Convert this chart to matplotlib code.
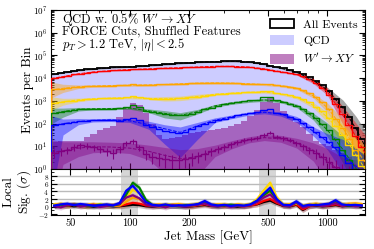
import numpy as np
import matplotlib
matplotlib.use('Agg')
import matplotlib.pyplot as plt
from matplotlib.patches import Patch
from matplotlib.ticker import LogLocator, NullFormatter, MultipleLocator

plt.rcParams['font.family'] = 'cmr10'
plt.rcParams['mathtext.fontset'] = 'cm'
plt.rcParams['axes.formatter.use_mathtext'] = True

# binning of the jet mass histograms (GeV)
edges = np.geomspace(40, 1550, 49)
centers = np.sqrt(edges[:-1] * edges[1:])

# events per bin, one list per cut level
all_events = [15100, 17000, 19100, 20900, 22400, 24000, 25700, 26900, 28200, 29500, 30200, 30900,
              32400, 33900, 35500, 37200, 38900, 40700, 42700, 44700, 45700, 47900, 50100, 51300,
              52500, 53700, 55000, 55000, 55000, 52500, 50100, 45700, 40700, 35500, 31600, 27500,
              22400, 18600, 14500, 10700, 7590, 4790, 2630, 1260, 525, 191, 63, 20]
qcd = [15000, 16900, 19000, 20800, 22300, 23900, 25600, 26800, 28100, 29400, 30000, 30500,
       31600, 33300, 35200, 37100, 38800, 40600, 42600, 44600, 45600, 47800, 50000, 51200,
       52400, 53600, 54900, 54900, 54900, 52400, 49800, 45300, 39800, 34100, 30800, 27100,
       22200, 18500, 14400, 10600, 7570, 4780, 2620, 1250, 520, 188, 61, 18]
red = [10000, 11500, 12900, 14500, 15800, 17400, 18600, 20000, 20900, 21900, 22900, 23400,
       24500, 25100, 25700, 26300, 26900, 27500, 28200, 28800, 29500, 30200, 30900, 31600,
       32400, 33100, 33100, 33100, 32400, 31600, 30200, 28200, 25700, 23400, 21400, 19500,
       17400, 14800, 12000, 8910, 6030, 3800, 1780, 708, 263, 89, 28, 8.9]
orange = [3160, 3470, 3720, 3980, 4170, 4370, 4470, 4570, 4680, 4680, 4790, 4900,
          5500, 5010, 5010, 5130, 5250, 5370, 5500, 5620, 5750, 5890, 6030, 6170,
          6170, 6170, 6170, 6030, 5890, 5750, 5500, 5370, 5750, 5750, 5010, 4680,
          4170, 3630, 3020, 2290, 1510, 891, 417, 166, 63, 22, 7.1, 2.5]
yellow = [794, 871, 955, 1020, 1100, 1170, 1230, 1290, 1320, 1350, 1380, 1450,
          1580, 1410, 1290, 1260, 1230, 1230, 1260, 1290, 1350, 1450, 1550, 1660,
          1820, 1950, 2090, 2190, 2290, 2340, 2400, 2450, 2630, 2750, 2190, 2000,
          1740, 1450, 1170, 871, 562, 355, 178, 79, 32, 11, 4.0, 1.4]
green = [282, 331, 372, 407, 427, 437, 447, 457, 457, 457, 479, 562,
         661, 525, 355, 316, 282, 251, 234, 229, 240, 275, 331, 417,
         501, 603, 708, 813, 891, 977, 1050, 1120, 1410, 1510, 1050, 912,
         759, 603, 437, 302, 178, 100, 52, 21, 7.1, 2.5, 1.0, 0.5]
blue = [83, 95, 107, 117, 126, 135, 141, 145, 145, 138, 132, 151,
        174, 141, 89, 71, 58, 48, 43, 40, 43, 56, 79, 100,
        117, 141, 166, 200, 229, 263, 288, 316, 398, 417, 302, 251,
        200, 151, 110, 71, 42, 25, 16, 8.9, 4.0, 1.8, 0.5, 0.3]
purple = [5.2, 6.0, 7.1, 9.3, 11.2, 10.5, 8.9, 7.6, 6.3, 5.0, 7.9, 14.1,
          16.6, 8.9, 4.5, 3.5, 3.2, 2.8, 2.5, 2.5, 2.8, 3.2, 3.8, 4.5,
          6.0, 7.6, 9.5, 12.0, 15.1, 18.2, 20.9, 24.0, 31.6, 39.8, 26.3, 22.4,
          19.1, 14.1, 10.0, 7.1, 5.0, 3.3, 2.0, 1.26, 0.8, 0.6, 0.4, 0.3]
signal = [15.8, 16.6, 16.6, 17.0, 17.8, 25.1, 35.5, 50.1, 63.1, 79.4, 200, 417,
          832, 631, 282, 100, 31.6, 20.0, 22.4, 26.3, 31.6, 38.0, 43.7, 49.0,
          53.7, 57.5, 63.1, 75.9, 93.3, 135, 224, 380, 871, 1450, 794, 355,
          191, 112, 69, 35.5, 17.8, 12.6, 10, 7.1, 5.0, 3.5, 2.5, 1.8]

# background fits and their uncertainty bands
m_fit = [40, 46, 55, 65, 80, 100, 125, 150, 180, 220, 270, 330, 400, 480, 580, 700, 850, 1000, 1200, 1400, 1550]
fit_all = [14500, 17400, 21900, 25100, 28800, 31600, 35500, 39800, 44700, 50100, 53700, 55000, 51300, 40700, 27500, 18200, 7940, 3020, 479, 56, 10]
fit_red = [9550, 11700, 15500, 18600, 21400, 24000, 25700, 27500, 28800, 30900, 33100, 33100, 30900, 25700, 19100, 14500, 6920, 2510, 224, 25, 5.0]
fit_orange = [3020, 3550, 4170, 4470, 4680, 4900, 5010, 5250, 5620, 6030, 6170, 6030, 5620, 5250, 4680, 3630, 1660, 501, 63, 7.1, 2.0]
fit_yellow = [759, 912, 1100, 1230, 1320, 1380, 1290, 1230, 1290, 1550, 1950, 2190, 2400, 2450, 2040, 1450, 631, 191, 32, 4.0, 1.0]
fit_green = [269, 339, 427, 447, 457, 479, 363, 282, 229, 331, 603, 813, 977, 1100, 955, 603, 200, 52, 7.1, 1.0, 0.3]
fit_blue = [79, 98, 123, 138, 145, 132, 89, 59, 41, 79, 141, 200, 275, 316, 263, 151, 45, 16, 4.0, 1.26, 0.5]
fit_purple = [5.2, 6.3, 8.3, 9.5, 9.3, 8.3, 6.0, 4.0, 2.8, 3.5, 6.6, 12.0, 19.1, 24.0, 21.4, 14.1, 6.6, 2.2, 0.63, 0.2, 0.1]

lo_all = [13500, 16200, 20400, 23400, 26900, 29500, 33100, 37200, 41700, 46800, 50100, 51300, 47900, 38000, 25700, 16600, 6920, 2290, 240, 17.8, 2.0]
hi_all = [15500, 18600, 23400, 26900, 30900, 33900, 38000, 42700, 47900, 53700, 57500, 58900, 55000, 43700, 29500, 20000, 9120, 3980, 1070, 200, 50]
lo_red = [8910, 11000, 14500, 17400, 20000, 22400, 24000, 25700, 26900, 28800, 30900, 30900, 28800, 24000, 17800, 13500, 5750, 1780, 89, 6.3, 0.8]
hi_red = [10200, 12600, 16600, 20000, 22900, 25700, 27500, 29500, 30900, 33100, 35500, 35500, 33100, 27500, 20400, 15500, 8320, 3550, 562, 100, 32]
lo_orange = [1350, 2340, 3470, 3980, 4170, 4370, 4470, 4680, 5010, 5370, 5500, 5370, 5010, 4680, 4170, 3160, 1320, 316, 25, 1.8, 0.3]
hi_orange = [6760, 5370, 5010, 5010, 5250, 5500, 5620, 5890, 6310, 6760, 6920, 6760, 6310, 5890, 5250, 4170, 2090, 794, 158, 28, 12.6]
lo_yellow = [380, 646, 912, 1100, 1170, 1230, 1150, 977, 1020, 1230, 1740, 1950, 2140, 2190, 1820, 1230, 479, 115, 11.2, 0.8, 0.13]
hi_yellow = [1510, 1290, 1320, 1380, 1480, 1550, 1450, 1550, 1620, 1950, 2190, 2450, 2690, 2750, 2290, 1700, 832, 316, 89, 20, 7.9]
lo_green = [95, 191, 355, 398, 407, 427, 302, 178, 145, 263, 525, 708, 851, 955, 832, 501, 141, 26, 1.8, 0.13, 0.03]
hi_green = [479, 479, 513, 501, 513, 537, 437, 372, 302, 417, 692, 933, 1120, 1260, 1100, 724, 282, 105, 28, 7.9, 4.0]
lo_blue = [0.05, 31.6, 89, 117, 123, 112, 56, 12.6, 3.2, 20, 112, 166, 234, 269, 214, 112, 28, 7.1, 0.63, 0.1, 0.03]
hi_blue = [224, 158, 166, 162, 170, 155, 126, 89, 71, 112, 178, 240, 324, 372, 324, 204, 71, 35.5, 20, 7.9, 4.0]
lo_purple = [0.01, 1.6, 3.5, 5.2, 5.6, 4.8, 2.5, 0.63, 0.16, 0.5, 3.5, 7.9, 14.1, 17.8, 15.1, 8.3, 2.2, 0.25, 0.01, 0.01, 0.01]
hi_purple = [20, 15.8, 15.8, 15.8, 15.1, 14.1, 11.2, 8.9, 7.1, 7.9, 11.2, 17.8, 26.3, 33.1, 30.2, 22.4, 14.1, 7.9, 3.2, 1.6, 1.0]

# local significance per bin
sig_all = [0.3, 0.2, 0.4, 0.1, 0.3, 0.2, 0.0, 0.2, 0.3, 0.1, 0.1, 0.3, 0.5, 0.4, 0.1, 0.0, 0.2, 0.1, 0.3, 0.2, 0.0, 0.1, 0.3, 0.4,
           0.2, 0.1, 0.3, 0.2, 0.0, 0.2, 0.4, 0.6, 1.2, 1.6, 0.8, 0.2, 0.1, 0.5, -0.9, 0.2, 0.3, 0.1, 0.2, 0.4, 0.1, 0.3, 0.2, 0.1]
sig_red = [0.4, 0.3, 0.2, 0.5, 0.3, 0.1, 0.2, 0.4, 0.2, 0.3, 0.2, 0.6, 1.0, 0.8, 0.3, 0.2, 0.1, 0.3, 0.2, 0.4, 0.2, 0.1, 0.4, 0.6,
           0.3, 0.2, 0.1, 0.3, 0.2, 0.1, 0.3, 0.7, 1.5, 2.0, 1.0, 0.3, 0.2, 0.6, -0.7, 0.1, 0.4, 0.2, 0.3, 0.6, 0.2, 0.4, 0.3, 0.2]
sig_orange = [0.5, 0.8, 0.4, 0.6, 0.3, 0.5, 0.7, 0.3, 0.5, 0.2, 0.3, 1.3, 2.4, 2.0, 0.8, 0.4, 0.6, 0.3, 0.5, 0.7, 0.4, 0.3, 0.5, 0.8,
              0.4, 0.6, 0.5, 0.3, 0.6, 0.4, 0.5, 1.2, 2.8, 4.0, 1.6, 0.5, 0.7, 0.9, 0.2, 0.6, 0.8, 0.5, 0.7, 1.0, 0.6, 0.8, 0.9, 0.7]
sig_yellow = [0.6, 0.3, 0.7, 0.4, 0.5, 0.2, 0.4, 0.6, 0.3, 0.4, 0.6, 2.2, 4.5, 3.6, 1.5, 0.5, 0.3, 0.6, 0.4, 0.5, 0.3, 0.6, 0.8, 1.0,
              0.5, 0.4, 0.6, 0.3, 0.5, 0.4, 0.7, 2.0, 4.2, 6.3, 2.5, 0.6, 0.4, 0.9, 0.3, 0.5, 0.6, 0.4, 0.8, 1.3, 0.7, 0.5, 0.6, 0.4]
sig_green = [0.2, 0.5, 0.3, 0.6, 0.4, 0.1, 0.3, 0.5, 0.2, 0.3, 0.6, 3.2, 6.3, 5.0, 1.8, 0.4, 0.2, 0.4, 0.3, 0.1, 0.4, 0.3, 0.6, 1.1,
             0.4, 0.3, 0.2, 0.5, 0.3, 0.2, 0.5, 1.5, 3.0, 4.2, 1.8, 0.4, 0.3, 1.0, 0.1, 0.3, 0.5, 0.2, 0.6, 1.2, 0.5, 0.3, 0.4, 0.2]
sig_blue = [0.3, 0.6, 0.8, 0.4, 0.7, 0.5, 0.2, 0.4, 0.6, 0.3, 1.0, 4.2, 5.5, 3.5, 1.2, 0.5, 0.3, 0.6, 0.2, 0.4, 0.3, 0.5, 0.7, 1.5,
            0.6, 0.3, 0.5, 0.2, 0.4, 0.3, 0.6, 1.6, 3.4, 5.0, 2.0, 0.5, 0.4, 1.4, 0.2, 0.5, 0.4, 0.6, 0.8, 1.7, 0.6, 0.4, 0.5, 0.3]
sig_purple = [0.1, -0.2, 0.4, 0.6, 0.0, 0.3, 0.5, -0.1, 0.2, 0.4, 0.7, 2.4, 3.0, 2.2, 0.6, 0.1, 0.3, -0.2, 0.4, 0.2, 0.0, 0.3, 0.5, 0.8,
              0.2, 0.1, 0.4, -0.1, 0.3, 0.1, 0.4, 1.2, 2.4, 3.2, 1.4, 0.3, 0.1, 1.2, -0.3, 0.2, 0.5, 0.1, 0.4, 0.9, 0.2, 0.5, 0.1, 0.3]

colors = ['#ff0000', '#ffa500', '#ffd700', '#008000', '#0000ff', '#800080']
cut_hists = [red, orange, yellow, green, blue, purple]
cut_fits = [fit_red, fit_orange, fit_yellow, fit_green, fit_blue, fit_purple]
cut_lo = [lo_red, lo_orange, lo_yellow, lo_green, lo_blue, lo_purple]
cut_hi = [hi_red, hi_orange, hi_yellow, hi_green, hi_blue, hi_purple]

fig = plt.figure(figsize=(3.74, 2.49), dpi=100)
ax = fig.add_axes([0.1364, 0.3213, 0.8396, 0.6386])
axr = fig.add_axes([0.1364, 0.1365, 0.8396, 0.1847], sharex=ax)

# top panel
ax.stairs(qcd, edges, baseline=1e-2, fill=True, color='blue', alpha=0.2, lw=0, zorder=1)
ax.stairs(signal, edges, baseline=1e-2, fill=True, color='purple', alpha=0.5, lw=0, zorder=2)
ax.fill_between(m_fit, lo_all, hi_all, color='gray', alpha=0.7, lw=0, zorder=3)
for c, lo, hi in zip(colors, cut_lo, cut_hi):
    ax.fill_between(m_fit, lo, hi, color=c, alpha=0.4, lw=0, zorder=3)

ax.stairs(all_events, edges, color='black', lw=1.3, zorder=5)
ax.plot(m_fit, fit_all, color='black', ls='--', lw=0.7, zorder=6)
for c, h, f in zip(colors, cut_hists, cut_fits):
    ax.stairs(h, edges, color=c, lw=1.0, zorder=5)
    ax.plot(m_fit, f, color=c, ls='--', lw=0.7, zorder=6)
ax.errorbar(centers, purple, yerr=np.sqrt(purple), fmt='none', ecolor='#800080', elinewidth=0.8, zorder=6)

ax.set_xscale('log')
ax.set_yscale('log')
ax.set_xlim(40, 1550)
ax.set_ylim(1, 1e7)
ax.yaxis.set_major_locator(LogLocator(base=10, numticks=10))
ax.yaxis.set_minor_locator(LogLocator(base=10, subs=np.arange(2, 10), numticks=20))
ax.yaxis.set_minor_formatter(NullFormatter())
ax.set_ylabel('Events per Bin', fontsize=9.5)
ax.yaxis.set_label_coords(-0.053, 0.5)

ax.text(0.035, 0.935, r"QCD w. 0.5% $W'\to XY$", transform=ax.transAxes, fontsize=9, va='center')
ax.text(0.035, 0.857, 'FORCE Cuts, Shuffled Features', transform=ax.transAxes, fontsize=9, va='center')
ax.text(0.035, 0.778, r'$p_T > 1.2$ TeV, $|\eta| < 2.5$', transform=ax.transAxes, fontsize=9, va='center')

handles = [Patch(facecolor='white', edgecolor='black', lw=1.3),
           Patch(facecolor='blue', alpha=0.2, lw=0),
           Patch(facecolor='purple', alpha=0.5, lw=0)]
ax.legend(handles, ['All Events', 'QCD', r"$W'\to XY$"], loc='upper right', frameon=False,
          fontsize=8.5, handlelength=2.0, handleheight=0.9, labelspacing=0.45,
          bbox_to_anchor=(1.0, 0.99), borderaxespad=0.2)

# bottom panel
axr.axvspan(90, 110, color='#cccccc', alpha=0.8, lw=0, zorder=0)
axr.axvspan(450, 550, color='#cccccc', alpha=0.8, lw=0, zorder=0)
for yv in [2, 4, 6, 8]:
    axr.axhline(yv, color='#bbbbbb', lw=1.0, zorder=0.5)
sig_list = [sig_all, sig_red, sig_orange, sig_yellow, sig_green, sig_purple, sig_blue]
sig_cols = ['black', '#ff0000', '#ffa500', '#ffd700', '#008000', '#800080', '#0000ff']
for s, c in zip(sig_list, sig_cols):
    s = np.array(s)
    axr.fill_between(centers, s - 0.7, s + 0.7, color=c, alpha=0.2, lw=0, zorder=1)
for s, c in zip(sig_list, sig_cols):
    axr.plot(centers, s, color=c, lw=1.6, zorder=2)

axr.set_ylim(-2.2, 9.9)
axr.set_yticks([-2, 0, 2, 4, 6, 8])
axr.yaxis.set_minor_locator(MultipleLocator(1))
axr.set_xticks([50, 100, 200, 500, 1000])
axr.set_xticklabels(['50', '100', '200', '500', '1000'])
axr.xaxis.set_minor_locator(LogLocator(base=10, subs=np.arange(1, 10), numticks=20))
axr.xaxis.set_minor_formatter(NullFormatter())
axr.set_xlim(40, 1550)
axr.set_ylabel('Local\nSig. $(\\sigma)$', fontsize=9.5, linespacing=1.05)
axr.yaxis.set_label_coords(-0.056, 0.5)
axr.set_xlabel('Jet Mass [GeV]', fontsize=9.5, labelpad=1.5)

for a in (ax, axr):
    a.tick_params(which='both', direction='in', top=True, right=True, labelsize=7.5, pad=2.5)
    a.tick_params(which='major', length=4, width=0.8)
    a.tick_params(which='minor', length=2, width=0.6)
ax.tick_params(axis='y', labelsize=6.5)
axr.tick_params(axis='y', labelsize=5.3, pad=1.5)
ax.tick_params(labelbottom=False)

fig.savefig('out.png', dpi=100)
